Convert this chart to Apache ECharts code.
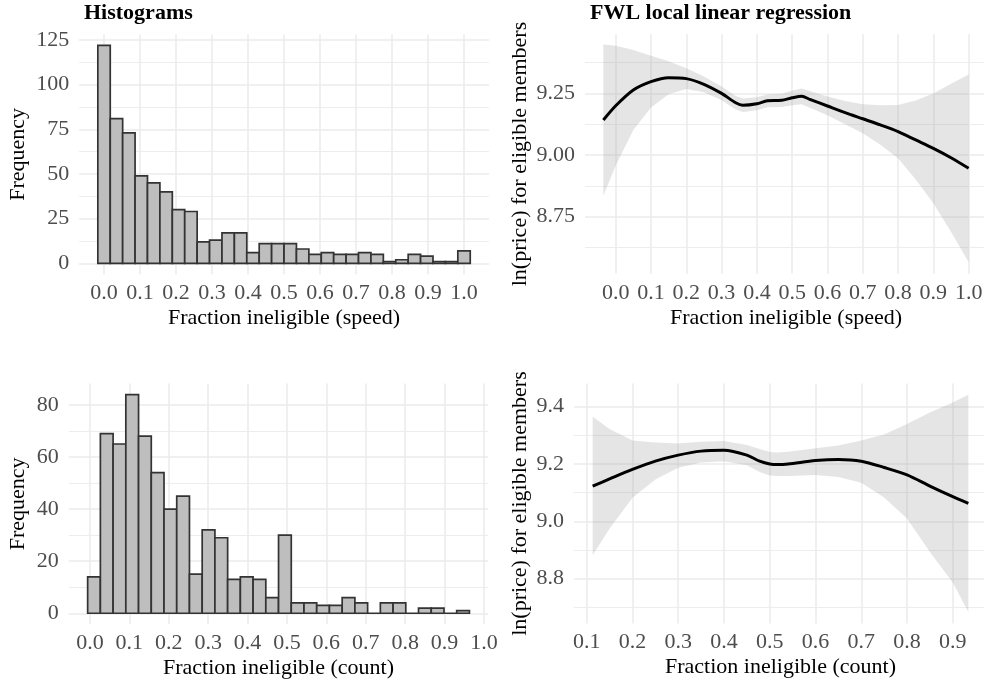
<!DOCTYPE html>
<html><head><meta charset="utf-8">
<script src="https://cdn.jsdelivr.net/npm/echarts@6/dist/echarts.min.js"></script>
<style>html,body{margin:0;padding:0;background:#fff}#c{width:984px;height:683px}</style>
</head><body><div id="c"></div>
<script>
// ---------- DATA ----------
// Histogram: Fraction ineligible (speed)
const speedBinStart = -0.01724;
const speedBinWidth = 0.03448;
const speedCounts = [122,81,73,49,45,40,30,29,12,13,17,17,6,11,11,11,8,5,6,5,5,6,5,1,2,5,4,1,1,7];
// Histogram: Fraction ineligible (count)
const countBinStart = -0.0059;
const countBinWidth = 0.0323;
const countCounts = [14,69,65,84,68,54,40,45,15,32,29,13,14,13,6,30,4,4,3,3,6,4,0,4,4,0,2,2,0,1];

// FWL local linear regression (speed)
const regSpeedX   = [-0.035,0,0.05,0.1,0.15,0.2,0.25,0.3,0.34,0.36,0.4,0.43,0.47,0.5,0.527,0.55,0.6,0.65,0.7,0.75,0.8,0.85,0.9,0.95,1.0];
const regSpeedFit = [9.142,9.200,9.264,9.298,9.314,9.310,9.287,9.250,9.212,9.202,9.208,9.220,9.222,9.232,9.238,9.226,9.199,9.172,9.147,9.122,9.095,9.061,9.027,8.989,8.946];
const regSpeedLo  = [8.835,8.957,9.102,9.193,9.247,9.268,9.255,9.222,9.185,9.175,9.182,9.194,9.195,9.202,9.206,9.192,9.161,9.125,9.088,9.042,8.987,8.901,8.804,8.689,8.565];
const regSpeedHi  = [9.449,9.443,9.426,9.403,9.381,9.352,9.319,9.278,9.239,9.229,9.234,9.246,9.249,9.262,9.270,9.260,9.237,9.219,9.206,9.202,9.203,9.221,9.250,9.289,9.327];

// FWL local linear regression (count)
const regCountX   = [0.113,0.15,0.2,0.25,0.3,0.35,0.4,0.45,0.478,0.5,0.518,0.54,0.6,0.65,0.7,0.75,0.8,0.85,0.9,0.934];
const regCountFit = [9.123,9.148,9.181,9.210,9.231,9.245,9.248,9.231,9.210,9.200,9.198,9.200,9.212,9.216,9.210,9.188,9.162,9.123,9.086,9.063];
const regCountHi  = [9.365,9.322,9.282,9.275,9.272,9.278,9.280,9.266,9.252,9.242,9.240,9.243,9.255,9.265,9.282,9.303,9.340,9.380,9.415,9.442];
const regCountLo  = [8.882,8.975,9.082,9.146,9.187,9.205,9.210,9.196,9.172,9.160,9.158,9.158,9.162,9.155,9.135,9.083,9.010,8.893,8.787,8.684];

// Tick labels
const fracTicks      = [0,0.1,0.2,0.3,0.4,0.5,0.6,0.7,0.8,0.9,1.0];
const regCountXTicks = [0.1,0.2,0.3,0.4,0.5,0.6,0.7,0.8,0.9];
const speedFreqTicks = [0,25,50,75,100,125];
const speedFreqMinor = [12.5,37.5,62.5,87.5,112.5];
const countFreqTicks = [0,20,40,60,80];
const countFreqMinor = [10,30,50,70];
const regSpeedYTicks = [8.75,9.0,9.25];
const regSpeedYMinor = [8.625,8.875,9.125,9.375];
const regCountYTicks = [8.8,9.0,9.2,9.4];
const regCountYMinor = [8.7,8.9,9.1,9.3];

// ---------- CHART ----------
const FONT = "'Liberation Serif','Times New Roman',serif";
const GRID = '#ebebeb';

function xAxis(gi, min, max, ticks, name) {
  return {
    type:'value', gridIndex:gi, min:min, max:max,
    name:name, nameLocation:'middle', nameGap:33,
    nameTextStyle:{fontFamily:FONT, fontSize:22, color:'#000'},
    axisLine:{show:false}, axisTick:{show:false, customValues:ticks},
    axisLabel:{customValues:ticks, formatter:v=>v.toFixed(1), fontFamily:FONT, fontSize:22, color:'#4d4d4d', margin:8, hideOverlap:false},
    splitLine:{show:true, lineStyle:{color:GRID, width:1.5}}
  };
}
function yAxis(gi, min, max, ticks, dec, name, gap) {
  return {
    type:'value', gridIndex:gi, min:min, max:max,
    name:name, nameLocation:'middle', nameGap:gap,
    nameTextStyle:{fontFamily:FONT, fontSize:22, color:'#000'},
    axisLine:{show:false}, axisTick:{show:false, customValues:ticks},
    axisLabel:{customValues:ticks, formatter:v=>v.toFixed(dec), fontFamily:FONT, fontSize:22, color:'#4d4d4d', margin:10, hideOverlap:false},
    splitLine:{show:true, lineStyle:{color:GRID, width:1.5}}
  };
}
function yMinor(gi, min, max, ticks) {
  return {
    type:'value', gridIndex:gi, min:min, max:max,
    axisLine:{show:false}, axisTick:{show:false, customValues:ticks},
    axisLabel:{show:false, customValues:ticks},
    splitLine:{show:true, lineStyle:{color:GRID, width:0.9}}
  };
}
function histData(start, width, counts) {
  return counts.map((c,i)=>[start+i*width, start+(i+1)*width, c]);
}
function renderBar(params, api) {
  const p0 = api.coord([api.value(0), 0]);
  const p1 = api.coord([api.value(1), api.value(2)]);
  return {type:'rect', shape:{x:p0[0], y:p1[1], width:p1[0]-p0[0], height:p0[1]-p1[1]},
          style:{fill:'#bebebe', stroke:'#333333', lineWidth:1.7}};
}
function ribbon(xs, lo, hi) {
  return function(params, api) {
    if (params.dataIndex !== 0) return null;
    const pts = [];
    for (let i=0;i<xs.length;i++) pts.push(api.coord([xs[i], lo[i]]));
    for (let i=xs.length-1;i>=0;i--) pts.push(api.coord([xs[i], hi[i]]));
    return {type:'polygon', shape:{points:pts}, style:{fill:'rgba(153,153,153,0.25)'}};
  };
}

const chart = echarts.init(document.getElementById('c'), null, {renderer:'canvas'});
chart.setOption({
  animation:false,
  backgroundColor:'#ffffff',
  title:[
    {text:'Histograms', left:79, top:-3, textStyle:{fontFamily:FONT, fontSize:22, fontWeight:'bold', color:'#000'}},
    {text:'FWL local linear regression', left:585, top:-3, textStyle:{fontFamily:FONT, fontSize:22, fontWeight:'bold', color:'#000'}}
  ],
  grid:[
    {left:79.2, top:34.5, width:409.7, height:239.7, outerBoundsMode:'none', containLabel:false},
    {left:585, top:34.2, width:402, height:239.6, outerBoundsMode:'none', containLabel:false},
    {left:68.7, top:383.6, width:419.6, height:240.6, outerBoundsMode:'none', containLabel:false},
    {left:573.9, top:383.6, width:413.2, height:239.9, outerBoundsMode:'none', containLabel:false}
  ],
  xAxis:[
    xAxis(0, -0.069, 1.069, fracTicks, 'Fraction ineligible (speed)'),
    xAxis(1, -0.087, 1.052, fracTicks, 'Fraction ineligible (speed)'),
    xAxis(2, -0.054, 1.011, fracTicks, 'Fraction ineligible (count)'),
    xAxis(3, 0.072, 0.975, regCountXTicks, 'Fraction ineligible (count)')
  ],
  yAxis:[
    yAxis(0, -6.1, 128.1, speedFreqTicks, 0, 'Frequency', 50),
    yMinor(0, -6.1, 128.1, speedFreqMinor),
    yAxis(1, 8.5179, 9.4903, regSpeedYTicks, 2, 'ln(price) for eligible members', 54),
    yMinor(1, 8.5179, 9.4903, regSpeedYMinor),
    yAxis(2, -4.2, 88.2, countFreqTicks, 0, 'Frequency', 39),
    yMinor(2, -4.2, 88.2, countFreqMinor),
    yAxis(3, 8.6435, 9.4806, regCountYTicks, 1, 'ln(price) for eligible members', 43),
    yMinor(3, 8.6435, 9.4806, regCountYMinor)
  ],
  series:[
    {type:'custom', xAxisIndex:0, yAxisIndex:0, renderItem:renderBar,
     data:histData(speedBinStart, speedBinWidth, speedCounts), encode:{x:[0,1], y:2}, z:2},
    {type:'custom', xAxisIndex:2, yAxisIndex:4, renderItem:renderBar,
     data:histData(countBinStart, countBinWidth, countCounts), encode:{x:[0,1], y:2}, z:2},
    {type:'custom', xAxisIndex:1, yAxisIndex:2, renderItem:ribbon(regSpeedX, regSpeedLo, regSpeedHi),
     data:regSpeedX.map((x,i)=>[x, regSpeedLo[i], regSpeedHi[i]]), encode:{x:0, y:[1,2]}, z:2},
    {type:'line', xAxisIndex:1, yAxisIndex:2, data:regSpeedX.map((x,i)=>[x, regSpeedFit[i]]),
     symbol:'none', showSymbol:false, smooth:0.3, lineStyle:{color:'#000', width:3, cap:'butt', join:'round'}, z:3},
    {type:'custom', xAxisIndex:3, yAxisIndex:6, renderItem:ribbon(regCountX, regCountLo, regCountHi),
     data:regCountX.map((x,i)=>[x, regCountLo[i], regCountHi[i]]), encode:{x:0, y:[1,2]}, z:2},
    {type:'line', xAxisIndex:3, yAxisIndex:6, data:regCountX.map((x,i)=>[x, regCountFit[i]]),
     symbol:'none', showSymbol:false, smooth:0.3, lineStyle:{color:'#000', width:3, cap:'butt', join:'round'}, z:3}
  ]
});
</script></body></html>
